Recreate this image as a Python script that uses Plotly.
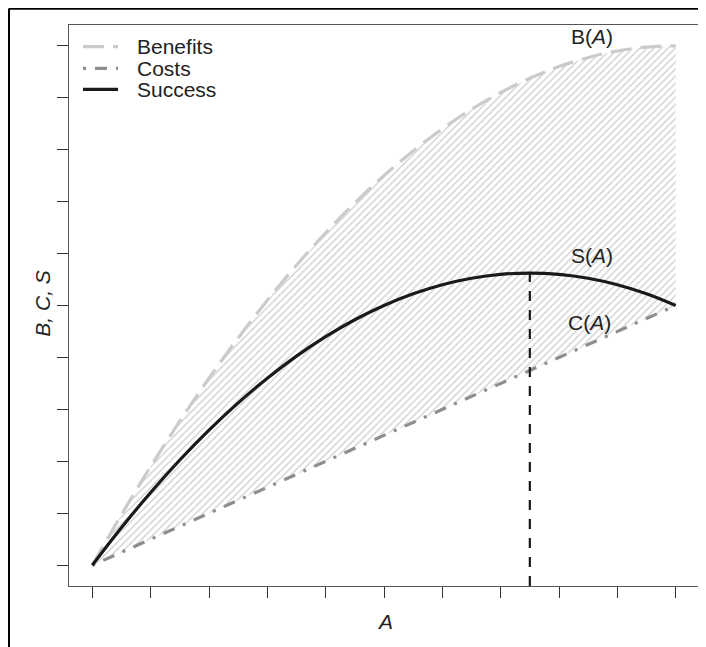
import plotly.graph_objects as go

# ---- data ----
A_vals = [0, 0.5, 1, 1.5, 2, 2.5, 3, 3.5, 4, 4.5, 5, 5.5, 6, 6.5, 7, 7.5, 8, 8.5, 9, 9.5, 10]
benefits = [0, 0.975, 1.9, 2.775, 3.6, 4.375, 5.1, 5.775, 6.4, 6.975, 7.5, 7.975, 8.4, 8.775, 9.1,
            9.375, 9.6, 9.775, 9.9, 9.975, 10]
costs = [0, 0.25, 0.5, 0.75, 1.0, 1.25, 1.5, 1.75, 2.0, 2.25, 2.5, 2.75, 3.0, 3.25, 3.5,
         3.75, 4.0, 4.25, 4.5, 4.75, 5.0]
success = [0, 0.725, 1.4, 2.025, 2.6, 3.125, 3.6, 4.025, 4.4, 4.725, 5.0, 5.225, 5.4, 5.525, 5.6,
           5.625, 5.6, 5.525, 5.4, 5.225, 5.0]
tick_vals = [0, 1, 2, 3, 4, 5, 6, 7, 8, 9, 10]
peak_index = 15
axis_range = [-0.4, 10.4]

FONT = "Liberation Sans, Arial, Helvetica, sans-serif"
FS = 21
C_B = "#cbcbcb"
C_C = "#8e8e8e"
C_S = "#1a1a1a"
TXT = "#222222"

fig = go.Figure()

# hatched region between costs and benefits
fig.add_trace(go.Scatter(x=A_vals, y=costs, mode="lines", line=dict(width=0, color="rgba(0,0,0,0)"),
                         showlegend=False, hoverinfo="skip"))
fig.add_trace(go.Scatter(x=A_vals, y=benefits, mode="lines", line=dict(width=0, color="rgba(0,0,0,0)"),
                         fill="tonexty", fillcolor="rgba(255,255,255,0)",
                         fillpattern=dict(shape="/", fgcolor="#a0a0a0", bgcolor="rgba(255,255,255,0)",
                                          size=5, solidity=0.28),
                         showlegend=False, hoverinfo="skip"))

# curves
fig.add_trace(go.Scatter(x=A_vals, y=benefits, mode="lines", name="Benefits",
                         line=dict(color=C_B, width=3.2, dash="21px,9px", shape="spline"), showlegend=False))
fig.add_trace(go.Scatter(x=A_vals, y=costs, mode="lines", name="Costs",
                         line=dict(color=C_C, width=3.2, dash="3px,9px,12px,9px"), showlegend=False))
fig.add_trace(go.Scatter(x=A_vals, y=success, mode="lines", name="Success",
                         line=dict(color=C_S, width=3.2, shape="spline"), showlegend=False))
# vertical dashed line at the success maximum
fig.add_trace(go.Scatter(x=[A_vals[peak_index], A_vals[peak_index]], y=[axis_range[0], success[peak_index]],
                         mode="lines", line=dict(color=C_S, width=2.2, dash="10px,9px"),
                         showlegend=False, hoverinfo="skip"))

axis_common = dict(range=axis_range, tickvals=tick_vals, showticklabels=False, ticks="outside",
                   ticklen=11, tickwidth=1.3, tickcolor="#333333", showline=True, linecolor="#555555",
                   linewidth=1.3, mirror=True, showgrid=False, zeroline=False, fixedrange=True)
fig.update_xaxes(**axis_common)
fig.update_yaxes(**axis_common)

annotations = []
# curve labels
annotations.append(dict(x=8.56, y=10.17, xref="x", yref="y", text="B(<i>A</i>)", showarrow=False,
                        font=dict(family=FONT, size=FS, color=TXT)))
annotations.append(dict(x=8.56, y=5.96, xref="x", yref="y", text="S(<i>A</i>)", showarrow=False,
                        font=dict(family=FONT, size=FS, color=TXT)))
annotations.append(dict(x=8.53, y=4.67, xref="x", yref="y", text="C(<i>A</i>)", showarrow=False,
                        font=dict(family=FONT, size=FS, color=TXT)))
# axis titles
annotations.append(dict(x=0.5016, y=-0.0624, xref="paper", yref="paper", text="<i>A</i>", showarrow=False,
                        xanchor="center", yanchor="middle", font=dict(family=FONT, size=FS, color=TXT)))
annotations.append(dict(x=-0.0413, y=0.505, xref="paper", yref="paper", text="<i>B, C, S</i>", showarrow=False,
                        textangle=-90, xanchor="center", yanchor="middle",
                        font=dict(family=FONT, size=FS, color=TXT)))

# manual legend (R style)
legend_names = ["Benefits", "Costs", "Success"]
legend_colors = [C_B, C_C, C_S]
legend_dash = ["21px,9px", "3px,9px,12px,9px", "solid"]
legend_y = [0.9613, 0.9228, 0.8854]
shapes = []
for name, col, dsh, yy in zip(legend_names, legend_colors, legend_dash, legend_y):
    shapes.append(dict(type="line", xref="paper", yref="paper", x0=0.0222, x1=0.0778, y0=yy, y1=yy,
                       line=dict(color=col, width=3.2, dash=dsh)))
    annotations.append(dict(x=0.1048, y=yy, xref="paper", yref="paper", text=name, showarrow=False,
                            xanchor="left", yanchor="middle", font=dict(family=FONT, size=FS, color=TXT)))

# outer frame (left and top edges visible), kept just inside the figure so it is not clipped
frame_x = -0.0954
frame_y = 1.0292
shapes.append(dict(type="line", xref="paper", yref="paper", x0=frame_x, x1=frame_x, y0=frame_y, y1=-0.12,
                   line=dict(color="black", width=2.2)))
shapes.append(dict(type="line", xref="paper", yref="paper", x0=frame_x, x1=1.05, y0=frame_y, y1=frame_y,
                   line=dict(color="black", width=2.2)))

# page has an 8px body margin, so the figure is 8px smaller and everything is shifted by -8px
fig.update_layout(width=698, height=639, margin=dict(l=61, r=7, t=17, b=61),
                  paper_bgcolor="white", plot_bgcolor="white", showlegend=False,
                  annotations=annotations, shapes=shapes,
                  font=dict(family=FONT, size=FS, color=TXT))

fig.write_html("out.html")
